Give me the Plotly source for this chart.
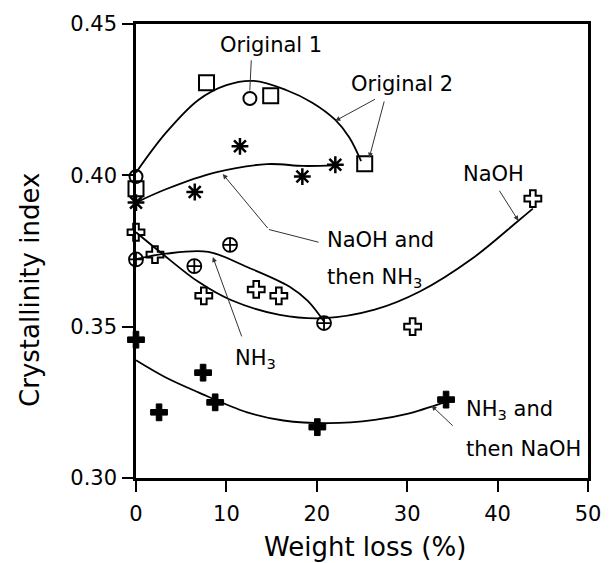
import plotly.graph_objects as go

# ---- data ----
orig1_x = [0, 12.6]
orig1_y = [0.3996, 0.4254]
orig2_x = [0, 7.8, 14.9, 25.3]
orig2_y = [0.3956, 0.4306, 0.4263, 0.4038]
naoh_nh3_x = [0, 6.5, 11.5, 18.4, 22.05]
naoh_nh3_y = [0.3910, 0.3945, 0.4096, 0.3996, 0.4035]
naoh_x = [0, 2.1, 7.5, 13.3, 15.8, 30.6, 43.9]
naoh_y = [0.3812, 0.3738, 0.3602, 0.3623, 0.3602, 0.3500, 0.3923]
nh3_x = [0, 6.45, 10.4, 20.8]
nh3_y = [0.3722, 0.3700, 0.3770, 0.3512]
nh3_naoh_x = [0, 2.55, 7.42, 8.76, 20.06, 34.3]
nh3_naoh_y = [0.3457, 0.3217, 0.3348, 0.3250, 0.3168, 0.3259]

# trend curves
fit_orig_x = [0, 3.3, 6.9, 10.0, 13.0, 16.6, 19.5, 22.05, 23.6, 24.9]
fit_orig_y = [0.4009, 0.4140, 0.4249, 0.4298, 0.4312, 0.4282, 0.4240, 0.4183, 0.4125, 0.4047]
fit_naoh_nh3_x = [0, 3.3, 8.7, 14.5, 18.5, 22.05]
fit_naoh_nh3_y = [0.3910, 0.3954, 0.4009, 0.4037, 0.4031, 0.4033]
fit_nh3_x = [0, 3.3, 8.0, 12.3, 17.0, 19.0, 20.8]
fit_nh3_y = [0.3723, 0.3741, 0.3747, 0.3697, 0.3632, 0.3585, 0.3517]
fit_naoh_x = [0, 2.9, 6.9, 10.5, 15.9, 20.8, 26.4, 31.4, 37.2, 42.3, 43.9]
fit_naoh_y = [0.3812, 0.3741, 0.3648, 0.3588, 0.3539, 0.3528, 0.3556, 0.3616, 0.3725, 0.3850, 0.3890]
fit_nh3_naoh_x = [0, 3.3, 6.9, 12.3, 16.3, 21.3, 26.4, 30.0, 34.1]
fit_nh3_naoh_y = [0.3389, 0.3332, 0.3283, 0.3217, 0.3190, 0.3181, 0.3192, 0.3212, 0.3250]

x_ticks = [0, 10, 20, 30, 40, 50]
y_ticks = [0.30, 0.35, 0.40, 0.45]

FONT = "DejaVu Sans"
fig = go.Figure()

for fx, fy in [(fit_orig_x, fit_orig_y), (fit_naoh_nh3_x, fit_naoh_nh3_y),
               (fit_nh3_x, fit_nh3_y), (fit_naoh_x, fit_naoh_y),
               (fit_nh3_naoh_x, fit_nh3_naoh_y)]:
    fig.add_trace(go.Scatter(x=fx, y=fy, mode="lines",
                             line=dict(color="black", width=1.8, shape="spline", smoothing=1),
                             hoverinfo="skip", showlegend=False, cliponaxis=False))

def pts(x, y, symbol, size, lw=2):
    fig.add_trace(go.Scatter(x=x, y=y, mode="markers", cliponaxis=False, showlegend=False,
                             marker=dict(symbol=symbol, size=size, color="black",
                                         line=dict(color="black", width=lw))))

pts(orig2_x, orig2_y, "square-open", 15)
pts(orig1_x, orig1_y, "circle-open", 13)
pts(naoh_nh3_x, naoh_nh3_y, "asterisk-open", 14, 2.5)
pts(naoh_x, naoh_y, "cross-open", 14, 2)
pts(nh3_x, nh3_y, "circle-cross-open", 14, 1.8)
pts(nh3_naoh_x, nh3_naoh_y, "cross", 14, 1)

# connecting part of the bent leader line
fig.add_shape(type="line", x0=20.2, y0=0.3779, x1=14.7, y1=0.3821,
              line=dict(color="#333", width=1))

ann_font = dict(family=FONT, size=21, color="black")
texts = [
    ("Original 1", 14.95, 0.4432, "center"),
    ("Original 2", 29.4, 0.4303, "center"),
    ("NaOH", 39.5, 0.4006, "center"),
    ("NaOH and", 20.9, 0.3788, "left"),
    ("then NH<sub>3</sub>", 20.9, 0.3660, "left"),
    ("NH<sub>3</sub>", 13.2, 0.3392, "center"),
    ("NH<sub>3</sub> and", 36.3, 0.3226, "left"),
    ("then NaOH", 36.3, 0.3097, "left"),
]
for t, x, y, xa in texts:
    fig.add_annotation(text=t, x=x, y=y, xref="x", yref="y", showarrow=False,
                       xanchor=xa, yanchor="middle", font=ann_font)

arrows = [
    (12.76, 0.4385, 12.59, 0.4280, 0),
    (26.6, 0.4254, 22.05, 0.4180, 2),
    (27.5, 0.4249, 25.8, 0.4058, 2),
    (40.1, 0.3954, 42.3, 0.3850, 2),
    (14.7, 0.3821, 9.6, 0.4004, 2),
    (11.75, 0.3463, 8.5, 0.3730, 2),
    (35.2, 0.3168, 32.7, 0.3239, 2),
]
for tx, ty, hx, hy, head in arrows:
    fig.add_annotation(x=hx, y=hy, ax=tx, ay=ty, xref="x", yref="y", axref="x", ayref="y",
                       text="", showarrow=True, arrowhead=head, arrowsize=1, arrowwidth=1,
                       arrowcolor="#333", standoff=0, startstandoff=0)

# axis titles
fig.add_annotation(text="Crystallinity index", xref="paper", yref="paper", x=-0.236, y=0.415,
                   xanchor="center", yanchor="middle",
                   textangle=-90, showarrow=False, font=dict(family=FONT, size=26, color="black"))
fig.add_annotation(text="Weight loss (%)", xref="paper", yref="paper", x=0.507, y=-0.151,
                   xanchor="center", yanchor="middle",
                   showarrow=False, font=dict(family=FONT, size=26, color="black"))

axis_common = dict(showline=True, linecolor="black", linewidth=2.5, mirror=True,
                   ticks="outside", ticklen=11, tickwidth=2, tickcolor="black",
                   showgrid=False, zeroline=False,
                   tickfont=dict(family=FONT, size=21, color="black"))
fig.update_xaxes(range=[0, 50], tickvals=x_ticks, ticktext=[str(v) for v in x_ticks],
                 ticklabelstandoff=4, **axis_common)
fig.update_yaxes(range=[0.30, 0.45], tickvals=y_ticks, ticktext=[f"{v:.2f}" for v in y_ticks],
                 ticklabelstandoff=1, **axis_common)

fig.update_layout(width=613, height=563, margin=dict(l=136, r=15, t=20, b=85),
                  plot_bgcolor="white", paper_bgcolor="white", showlegend=False,
                  font=dict(family=FONT, color="black"))

fig.write_html("out.html")
